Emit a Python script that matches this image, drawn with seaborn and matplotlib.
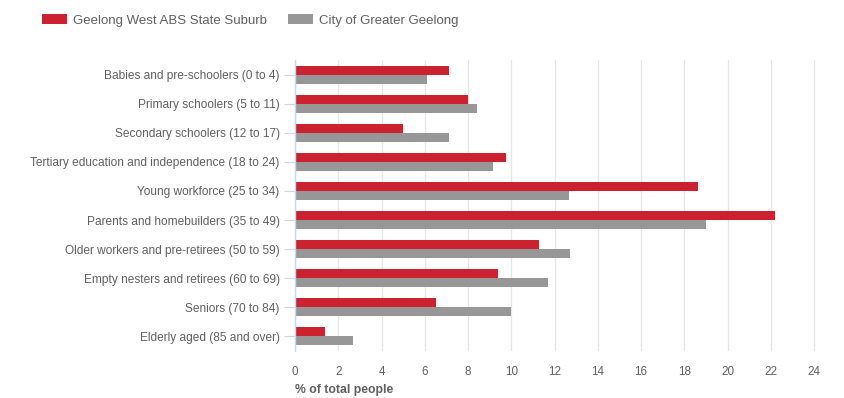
import matplotlib
matplotlib.use("Agg")
import matplotlib.pyplot as plt
import seaborn as sns
import pandas as pd
from matplotlib.patches import Patch

categories = [
    "Babies and pre-schoolers (0 to 4)",
    "Primary schoolers (5 to 11)",
    "Secondary schoolers (12 to 17)",
    "Tertiary education and independence (18 to 24)",
    "Young workforce (25 to 34)",
    "Parents and homebuilders (35 to 49)",
    "Older workers and pre-retirees (50 to 59)",
    "Empty nesters and retirees (60 to 69)",
    "Seniors (70 to 84)",
    "Elderly aged (85 and over)",
]
series_names = ["Geelong West ABS State Suburb", "City of Greater Geelong"]
geelong_west = [7.1, 8.0, 5.0, 9.75, 18.65, 22.2, 11.3, 9.4, 6.5, 1.4]
greater_geelong = [6.1, 8.4, 7.1, 9.15, 12.65, 19.0, 12.7, 11.7, 10.0, 2.7]
x_ticks = [0, 2, 4, 6, 8, 10, 12, 14, 16, 18, 20, 22, 24]

colors = ["#cc2230", "#979797"]
text_col = "#606060"

df = pd.DataFrame({
    "group": categories * 2,
    "series": [series_names[0]] * len(categories) + [series_names[1]] * len(categories),
    "value": geelong_west + greater_geelong,
})

sns.set_theme(style="white")
plt.rcParams["font.family"] = ["Liberation Sans", "DejaVu Sans"]

fig = plt.figure(figsize=(8.45, 3.98), dpi=100)
ax = fig.add_axes([295 / 845, 1 - 351 / 398, 530 / 845, 291 / 398])

sns.barplot(data=df, x="value", y="group", hue="series", orient="h",
            palette=colors, width=0.62, gap=0, saturation=1,
            order=categories, hue_order=series_names, ax=ax, legend=False)
for p in ax.patches:
    p.set_linewidth(0)

ax.set_xlim(0, 24.5)
ax.set_ylim(9.5, -0.5)
ax.set_xticks(x_ticks)
ax.set_xticklabels([str(t) for t in x_ticks])
ax.grid(axis="x", color="#e6e6ea", linewidth=0.9)
ax.set_axisbelow(True)
for s in ["top", "right", "bottom"]:
    ax.spines[s].set_visible(False)
ax.spines["left"].set_color("#ccd6eb")
ax.spines["left"].set_linewidth(1)

ax.tick_params(axis="y", left=True, length=8, width=0.8, color="#ccd6eb",
               labelsize=8.6, labelcolor=text_col, pad=3)
ax.tick_params(axis="x", bottom=False, length=0, labelsize=8.4,
               labelcolor=text_col, pad=11)
ax.set_ylabel("")
ax.set_xlabel("% of total people", loc="left", fontsize=8.8, fontweight="bold",
              color=text_col, labelpad=4)

handles = [Patch(facecolor=c, edgecolor="none") for c in colors]
fig.legend(handles, series_names, loc="upper left", bbox_to_anchor=(0.0351, 0.995),
           ncol=2, frameon=False, fontsize=9.5, labelcolor=text_col,
           handlelength=1.9, handleheight=0.83, handletextpad=0.45,
           columnspacing=1.65)

fig.savefig("out.png", dpi=100)
